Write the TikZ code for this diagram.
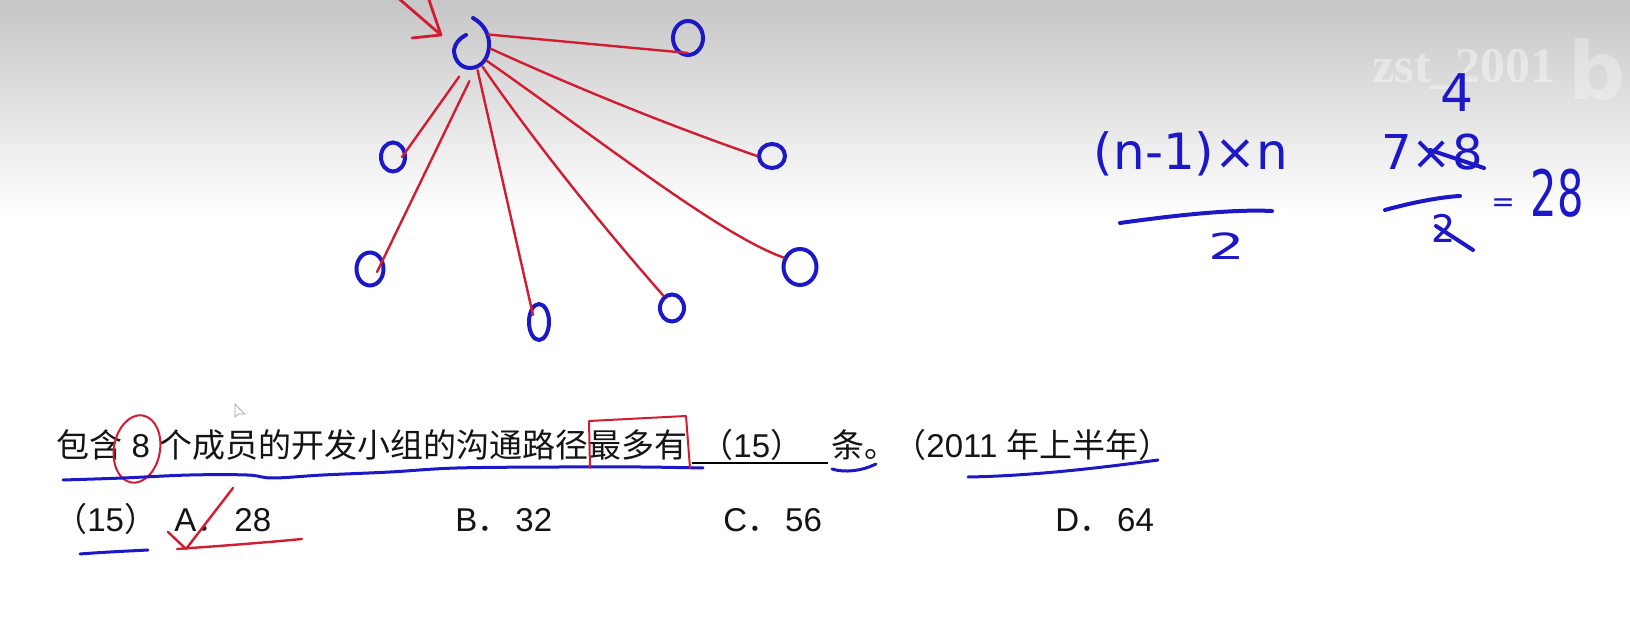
\documentclass[tikz,border=0pt]{standalone}
\usepackage{fontspec}
\setmainfont{Liberation Sans}
\newfontfamily\cjk{Noto Sans CJK SC}
\newfontfamily\hand{DejaVu Sans}
\newfontfamily\wmfont{Liberation Serif}
\usetikzlibrary{shapes.geometric}
\definecolor{penblue}{RGB}{28,24,200}
\definecolor{penred}{RGB}{210,28,50}
\definecolor{bgtop}{RGB}{198,198,198}
\definecolor{txt}{RGB}{20,20,20}
\begin{document}
\begin{tikzpicture}[x=0.5pt, y=-0.5pt,
  circ/.style={ellipse, draw=penblue, line width=2pt, inner sep=0pt},
  hubshape/.style={ellipse, inner sep=0pt, minimum width=18pt, minimum height=25pt},
  redline/.style={draw=penred, line width=1.2pt, line cap=round, line join=round},
  redthin/.style={draw=penred, line width=1pt, line cap=round, line join=round},
  bluethin/.style={draw=penblue, line width=1.5pt, line cap=round},
  bluethick/.style={draw=penblue, line width=2pt, line cap=round},
  qtext/.style={inner sep=0pt, anchor=base west, text=txt, font=\fontsize{16.5}{20}\selectfont},
  handtext/.style={inner sep=0pt, anchor=base, text=penblue},
]
\useasboundingbox (0,0) rectangle (1630,640);
\fill[white] (0,0) rectangle (1630,640);
\shade[top color=bgtop, bottom color=white] (0,0) rectangle (1630,215);

% watermark
\node[inner sep=0pt, anchor=base west, text=white, text opacity=0.4,
      font=\wmfont\bfseries\fontsize{25}{25}\selectfont] (wm) at (1372,83) {zst\_2001};
\node[inner sep=0pt, anchor=base west, text=white, text opacity=0.3,
      font=\hand\bfseries\fontsize{40}{40}\selectfont] (logo) at (1568,100) {b};

% network
\node[hubshape] (hub) at (472,46) {};
\draw[draw=penblue, line width=2pt, line cap=round]
  (473,18) .. controls (484,24) and (490,35) .. (489,47)
  .. controls (488,60) and (480,68) .. (470,68)
  .. controls (460,68) and (454,59) .. (454,50)
  .. controls (455,43) and (460,38) .. (466,35);
\node[circ, minimum width=15pt, minimum height=17pt] (n1) at (688,38) {};
\node[circ, minimum width=13pt, minimum height=12pt] (n2) at (772,156) {};
\node[circ, minimum width=16.5pt, minimum height=18pt] (n3) at (800,267) {};
\node[circ, minimum width=12pt, minimum height=13.5pt] (n4) at (672,308) {};
\node[circ, minimum width=10pt, minimum height=18pt] (n5) at (539,322) {};
\node[circ, minimum width=13.5pt, minimum height=16.5pt] (n6) at (370,269) {};
\node[circ, minimum width=12pt, minimum height=14.5pt] (n7) at (393,157) {};

\draw[redline] (hub.35) -- ([yshift=2pt]n1.south);
\draw[redline] (hub.-8) .. controls (579,89) and (668,125) .. (n2.west);
\draw[redline] (hub.-45) .. controls (600,140) and (720,235) .. (n3.150);
\draw[redline] (hub.-63) .. controls (540,150) and (610,235) .. (n4.125);
\draw[redline] (hub.-77) -- ([shift={(-3pt,3.5pt)}]n5.center);
\draw[redline, shorten <=5.5pt] (hub.-85) -- ([shift={(3.5pt,-1.5pt)}]n6.center);
\draw[redline, shorten <=4.5pt] (hub.-108) -- ([xshift=4.5pt]n7.center);

% arrow pointing at hub
\coordinate (arrtail) at (397,-3);
\coordinate (arrtip) at (441,35);
\draw[redline, line width=1.4pt] (arrtail) -- (arrtip);
\draw[redline, line width=1.4pt] (428,-3) -- (arrtip) -- (412,38);

% formula
\node[handtext, font=\hand\fontsize{25}{25}\selectfont] (f1) at (1191,170) {(n-1)×n};
\draw[bluethick] (1120,223) .. controls (1170,216) and (1230,209) .. (1272,211);
\node[handtext, font=\hand\fontsize{18}{18}\selectfont] (f2) at (1227,260) {\scalebox{1.6}[1]{2}};
\node[handtext, font=\hand\fontsize{26}{26}\selectfont] (f3) at (1457,112) {4};
\node[handtext, font=\hand\fontsize{24}{24}\selectfont] (f4) at (1432,170) {7×8};
\draw[bluethick] (1430,150) -- (1484,168);
\draw[bluethick] (1385,210) .. controls (1410,203) and (1440,197) .. (1460,196);
\node[handtext, font=\hand\fontsize{19}{19}\selectfont] (f5) at (1444,243) {2};
\draw[bluethick] (1436,226) -- (1473,250);
\node[handtext, font=\hand\fontsize{14}{14}\selectfont] (f6) at (1503,212) {=};
\node[handtext, font=\hand\fontsize{32}{32}\selectfont] (f7) at (1557,217) {\scalebox{0.65}[1]{28}};

% question text
\node[qtext] (q1) at (56,458) {{\cjk 包含} 8 {\cjk 个成员的开发小组的沟通路径最多有}};
\node[qtext] (q2) at (700,458) {{\cjk （}15{\cjk ）}};
\node[qtext] (q3) at (831,458) {\cjk 条。};
\node[qtext] (q4) at (893,458) {{\cjk （}2011 {\cjk 年上半年）}};
\draw[line width=0.8pt, black] (692,463) -- (828,463);

\node[qtext] (o0) at (54,532) {{\cjk （}15{\cjk ）}};
\node[qtext] (oa) at (174,532) {A{\cjk ．}\hspace{2.5pt}28};
\node[qtext] (ob) at (455,532) {B{\cjk ．}\hspace{2.5pt}32};
\node[qtext] (oc) at (723,532) {C{\cjk ．}\hspace{2.5pt}56};
\node[qtext] (od) at (1055,532) {D{\cjk ．}\hspace{2.5pt}64};

% cursor
\draw[gray!70, fill=white, line width=0.4pt, line join=round]
  (235,404) -- (235,417) -- (238.5,414) -- (244.5,414) -- cycle;

% annotations
\draw[redthin, rotate around={-10:(137,449)}] (137,449) ellipse [x radius=11.5pt, y radius=17pt];
\draw[bluethin] plot[smooth, tension=0.6] coordinates {(63,480) (123,478) (190,475) (247,475) (273,478) (323,475) (390,472) (457,468) (560,467) (640,467) (703,468)};
\draw[redthin] (590,468) -- (589,421) -- (686,416) -- (690,468);
\draw[bluethin] (832,469) .. controls (845,473) and (862,471) .. (876,464);
\draw[bluethin] (968,477) .. controls (1030,476) and (1100,468) .. (1158,460);
\draw[bluethin] (80,554) .. controls (105,552) and (130,551) .. (148,550);
\draw[redline] (168,532) -- (186,549) -- (233,488);
\draw[redline] (177,549) .. controls (220,546) and (260,543) .. (302,539);
\end{tikzpicture}
\end{document}
